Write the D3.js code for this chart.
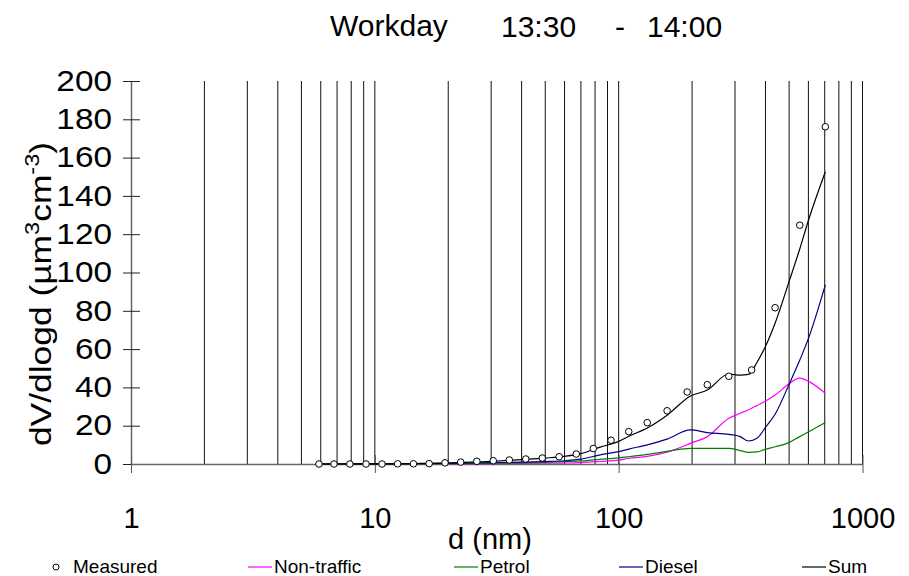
<!DOCTYPE html>
<html>
<head>
<meta charset="utf-8">
<script src="https://cdn.jsdelivr.net/npm/d3@7"></script>
<style>
    body { margin: 0; background: #fff; }
    text { font-family: "Liberation Sans", Arial, sans-serif; fill: #000; }
</style>
</head>
<body>
<svg></svg>
<script>
// measured points (diameter nm, dV/dlogd)
const measuredD = [5.9, 6.8, 7.9, 9.2, 10.7, 12.4, 14.4, 16.7, 19.4, 22.5, 26.2, 30.6, 35.6, 41.6, 48.6,
                   57.0, 67.0, 78.7, 93.0, 110, 131, 158, 191, 231, 283, 351, 438, 553, 704];
const measuredV = [0, 0, 0, 0, 0, 0.1, 0.1, 0.2, 0.6, 1.0, 1.4, 1.7, 2.1, 2.6, 3.1,
                   3.8, 5.2, 8.1, 12.4, 16.9, 21.6, 27.8, 37.6, 41.4, 45.8, 49.1, 81.6, 124.7, 176.1];

// fitted source contributions
const modelD      = [5.9, 10, 20, 30, 40, 50, 60, 70, 84, 100, 110, 131, 158, 197, 231, 283, 315, 341, 369, 402, 438, 502, 552, 604, 704];
const sumV        = [0, 0.1, 0.6, 1.4, 2.3, 3.1, 4.0, 5.4, 8.8, 11.8, 14.5, 18.8, 25.5, 35.5, 38.6, 47.0, 46.4, 46.8, 53.0, 62.0, 73.5, 96.0, 112.0, 128.3, 152.6];
const dieselV     = [0, 0.05, 0.3, 0.7, 1.0, 1.3, 1.7, 2.5, 4.8, 6.5, 7.8, 10.0, 13.0, 17.8, 16.4, 15.5, 14.3, 12.0, 13.4, 19.5, 26.0, 42.1, 54.0, 66.5, 93.5];
const nonTrafficV = [0, 0, 0.1, 0.2, 0.3, 0.4, 0.5, 0.7, 1.3, 2.0, 3.0, 4.0, 6.2, 10.8, 14.3, 23.9, 26.5, 28.3, 30.5, 33.0, 36.0, 42.1, 44.8, 43.0, 36.9];
const petrolV     = [0, 0.05, 0.2, 0.4, 0.6, 0.9, 1.2, 1.6, 2.4, 3.2, 3.8, 5.0, 6.6, 8.2, 8.2, 8.2, 7.0, 6.1, 6.3, 7.8, 9.0, 11.3, 14.3, 17.0, 21.6];

// axes
const yTicks = [0, 20, 40, 60, 80, 100, 120, 140, 160, 180, 200];
const xTicks = [1, 10, 100, 1000];
const gridValues = [1, 10, 100].flatMap(dec => [2, 3, 4, 5, 6, 7, 8, 9, 10].map(k => k * dec));

const seriesNames  = ["Non-traffic", "Petrol", "Diesel", "Sum"];
const seriesColors = ["#ff00ff", "#008000", "#000080", "#000000"];

document.addEventListener("DOMContentLoaded", function() {
    const width = 909;
    const height = 576;
    const svg = d3.select("svg")
        .attr("width", width)
        .attr("height", height);

    const x = d3.scaleLog().domain([1, 1000]).range([131, 862.5]);
    const y = d3.scaleLinear().domain([0, 200]).range([464, 81]);

    // title
    const title = svg.append("g").style("font-size", "30px");
    title.append("text").attr("x", 330).attr("y", 36).text("Workday");
    title.append("text").attr("x", 501).attr("y", 37).text("13:30");
    title.append("text").attr("x", 615).attr("y", 37).text("-");
    title.append("text").attr("x", 647).attr("y", 37).text("14:00");

    // vertical grid lines
    svg.append("g")
        .selectAll("line")
        .data(gridValues)
        .join("line")
        .attr("x1", d => x(d)).attr("x2", d => x(d))
        .attr("y1", y(200)).attr("y2", y(0))
        .attr("stroke", "#111")
        .attr("stroke-width", 1);

    // y axis
    const stretch = 1.15;
    const yAxis = svg.append("g")
        .attr("transform", `translate(${x(1)},0)`)
        .call(d3.axisLeft(y).tickValues(yTicks).tickSize(8).tickSizeOuter(0));
    yAxis.select(".domain").attr("stroke", "#666").attr("stroke-width", 1.5);
    yAxis.selectAll(".tick line").attr("x1", 9).attr("stroke", "#222");
    yAxis.selectAll(".tick text")
        .attr("x", -19 / stretch)
        .attr("transform", `scale(${stretch},1)`)
        .style("font-size", "29px")
        .style("font-family", "Liberation Sans, Arial, sans-serif");

    // x axis
    const xAxis = svg.append("g")
        .attr("transform", `translate(0,${y(0)})`)
        .call(d3.axisBottom(x).tickValues(xTicks).tickFormat(d3.format("d")).tickSize(9).tickSizeOuter(0));
    xAxis.select(".domain").attr("stroke", "#666").attr("stroke-width", 1.5);
    xAxis.selectAll(".tick line").attr("y1", -9).attr("stroke", "#555");
    xAxis.selectAll(".tick text")
        .attr("y", 64).attr("dy", null)
        .style("font-size", "29px")
        .style("font-family", "Liberation Sans, Arial, sans-serif");

    // axis titles
    svg.append("text")
        .attr("x", 490).attr("y", 549)
        .attr("text-anchor", "middle")
        .style("font-size", "29px")
        .text("d (nm)");

    const yLabel = svg.append("text")
        .attr("transform", "translate(51,294) rotate(-90) scale(1.18,1)")
        .attr("text-anchor", "middle")
        .style("font-size", "30px");
    yLabel.append("tspan").text("dV/dlogd (µm");
    yLabel.append("tspan").attr("dy", -12).style("font-size", "20px").text("3");
    yLabel.append("tspan").attr("dy", 12).text("cm");
    yLabel.append("tspan").attr("dy", -12).style("font-size", "20px").text("-3");
    yLabel.append("tspan").attr("dy", 12).text(")");

    // model curves
    const line = d3.line()
        .x(d => x(d[0]))
        .y(d => y(d[1]))
        .curve(d3.curveMonotoneX);
    const seriesValues = [nonTrafficV, petrolV, dieselV, sumV];

    seriesValues.forEach((vals, i) => {
        svg.append("path")
            .datum(modelD.map((d, j) => [d, vals[j]]))
            .attr("fill", "none")
            .attr("stroke", seriesColors[i])
            .attr("stroke-width", 1.2)
            .attr("d", line);
    });

    // measured points
    svg.append("g")
        .selectAll("circle")
        .data(measuredD.map((d, i) => [d, measuredV[i]]))
        .join("circle")
        .attr("cx", d => x(d[0]))
        .attr("cy", d => y(d[1]))
        .attr("r", 3.3)
        .attr("fill", "#fff")
        .attr("stroke", "#000")
        .attr("stroke-width", 1);

    // legend
    const legend = svg.append("g").style("font-size", "19px");
    legend.append("circle")
        .attr("cx", 56).attr("cy", 567).attr("r", 3)
        .attr("fill", "#fff").attr("stroke", "#000");
    legend.append("text").attr("x", 73).attr("y", 573).text("Measured");

    const legendX = [248, 454, 619, 802];
    seriesNames.forEach((name, i) => {
        legend.append("line")
            .attr("x1", legendX[i]).attr("x2", legendX[i] + 24)
            .attr("y1", 567).attr("y2", 567)
            .attr("stroke", seriesColors[i])
            .attr("stroke-width", 1.2);
        legend.append("text")
            .attr("x", legendX[i] + 26).attr("y", 573)
            .text(name);
    });
});
</script>
</body>
</html>
